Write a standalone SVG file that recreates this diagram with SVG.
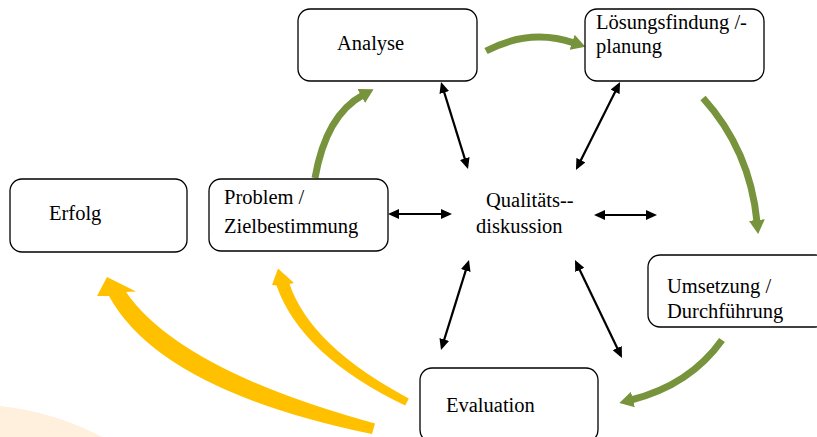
<svg xmlns="http://www.w3.org/2000/svg" width="817" height="437" viewBox="0 0 817 437">
<style>
.box{fill:#fff;stroke:#000;stroke-width:1.3}
.t{font-family:"Liberation Serif","Times New Roman",serif;font-size:20.5px;fill:#000}
.dbl{stroke:#000;stroke-width:2.2;fill:none;marker-start:url(#bh);marker-end:url(#bh)}
.grn{stroke:#77933C;stroke-width:7;fill:none;marker-end:url(#gh)}
.yel{fill:#FFC000;stroke:none}
</style>
<defs>
<marker id="bh" markerUnits="userSpaceOnUse" viewBox="0 0 11 10" markerWidth="11" markerHeight="10" refX="8" refY="5" orient="auto-start-reverse"><path d="M0,0 L11,5 L0,10 z" fill="#000"/></marker>
<marker id="gh" markerUnits="userSpaceOnUse" viewBox="0 0 14 16" markerWidth="14" markerHeight="16" refX="2" refY="8" orient="auto"><path d="M0,0 L14,8 L0,16 z" fill="#77933C"/></marker>
</defs>
<rect width="817" height="437" fill="#fff"/>
<path d="M0,437 L0,406 Q55,412 102,437 Z" fill="#FEF0DC"/>
<g id="connectors">
<line class="dbl" x1="441.9" y1="84.9" x2="467.1" y2="166.1"/>
<line class="dbl" x1="618.7" y1="84.7" x2="577.3" y2="167.3"/>
<line class="dbl" x1="391" y1="214" x2="449" y2="214"/>
<line class="dbl" x1="597" y1="215" x2="654" y2="215"/>
<line class="dbl" x1="468.1" y1="262.9" x2="441.9" y2="347.1"/>
<line class="dbl" x1="576.3" y1="262.7" x2="620.7" y2="355.3"/>
<path class="grn" d="M315,178 Q326,115 363,95"/>
<path class="grn" d="M486,51 Q530,28 574,43"/>
<path class="grn" d="M703,98 Q750,150 757,222"/>
<path class="grn" d="M722,340 Q690,385 631,400"/>
<path class="yel" d="M375,423.5 Q180,370 126,292 L136,291.5 L107,277 L97,296 L109,296 Q160,390 372,434 Z"/>
<path class="yel" d="M408.8,398.4 Q311,346.5 289.5,284 L294,283 L278,268.5 L272,285 L276.5,285.5 Q301,355.5 405.2,405.6 Z"/>
</g>
<g id="erfolg"><rect class="box" x="10" y="179" width="177" height="73" rx="12"/><text class="t" x="49" y="220">Erfolg</text></g>
<g id="problem"><rect class="box" x="209" y="179" width="179" height="72" rx="12"/><text class="t" x="224" y="204">Problem /</text><text class="t" x="224" y="232.5">Zielbestimmung</text></g>
<g id="analyse"><rect class="box" x="298" y="9" width="179" height="72" rx="12"/><text class="t" x="337" y="50">Analyse</text></g>
<g id="loesung"><rect class="box" x="585" y="9" width="179" height="72" rx="12"/><text class="t" x="596" y="29.3">Lösungsfindung /-</text><text class="t" x="596" y="53.3">planung</text></g>
<g id="umsetzung"><rect class="box" x="648" y="255" width="179" height="72" rx="12"/><text class="t" x="667" y="293.3">Umsetzung /</text><text class="t" x="667" y="318.3">Durchführung</text></g>
<g id="evaluation"><rect class="box" x="420" y="368" width="178" height="74" rx="12"/><text class="t" x="446" y="411.7">Evaluation</text></g>
<g id="qualitaet"><text class="t" x="486" y="207">Qualitäts--</text><text class="t" x="476" y="233">diskussion</text></g>
</svg>
